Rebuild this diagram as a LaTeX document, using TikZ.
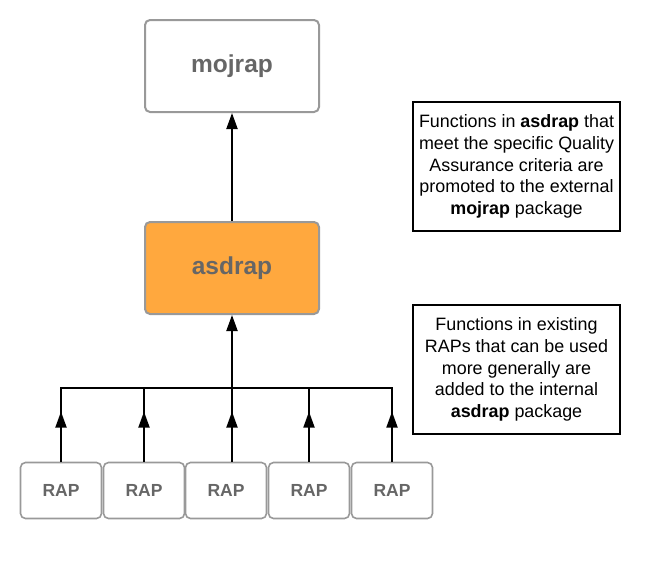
\documentclass[tikz,border=0pt]{standalone}
\usepackage{fontspec}
\setmainfont{Liberation Sans}
\usetikzlibrary{arrows.meta, positioning, decorations.markings}
\definecolor{boxgray}{RGB}{153,153,153}
\definecolor{labelgray}{RGB}{102,102,102}
\definecolor{asdorange}{RGB}{255,168,62}

\begin{document}
\begin{tikzpicture}[
    x=1pt, y=-1pt,
    pkg/.style={rectangle, draw=boxgray, line width=2pt, rounded corners=5pt, minimum width=174pt, minimum height=92pt, text=labelgray, font=\fontsize{24.5}{28}\selectfont\bfseries},
    rap/.style={rectangle, draw=boxgray, line width=1.6pt, rounded corners=5pt, minimum width=81pt, minimum height=56pt, text=labelgray, font=\fontsize{17.5}{21}\selectfont\bfseries},
    note/.style={rectangle, draw, line width=2pt, minimum width=207pt, minimum height=129pt, align=center, font=\fontsize{17.9}{21.8}\selectfont},
    arrow/.style={-{Triangle[length=16pt, width=11pt]}, line width=2pt},
    midarrow/.style={line width=2pt, postaction={decorate}, decoration={markings, mark=at position 0.68 with {\arrow{Triangle[length=16pt, width=11pt]}}}}
]
    \useasboundingbox (0,0) rectangle (660,565);

    \node[pkg] (mojrap) at (232,66) {mojrap};
    \node[pkg, fill=asdorange] (asdrap) at (232,268) {asdrap};

    \foreach \i/\x in {1/61, 2/144, 3/226, 4/309, 5/392}
        \node[rap] (rap\i) at (\x,490.5) {RAP};

    \coordinate (bus) at (232,388);

    \draw[arrow] (asdrap) -- (mojrap);
    \draw[arrow] (bus) -- (asdrap);
    \draw[line width=2pt, line cap=rect] (rap1.north |- bus) -- (rap5.north |- bus);
    \foreach \i in {1,2,4,5}
        \draw[midarrow] (rap\i.north) -- (rap\i.north |- bus);
    \draw[midarrow] (asdrap.south |- rap3.north) -- (bus);

    \node[note] (promote) at (516.5,166.5) {Functions in \textbf{asdrap} that\\meet the specific Quality\\Assurance criteria are\\promoted to the external\\\textbf{mojrap} package};
    \node[note] (internal) at (516.5,369.5) {Functions in existing\\RAPs that can be used\\more generally are\\added to the internal\\\textbf{asdrap} package};
\end{tikzpicture}
\end{document}
